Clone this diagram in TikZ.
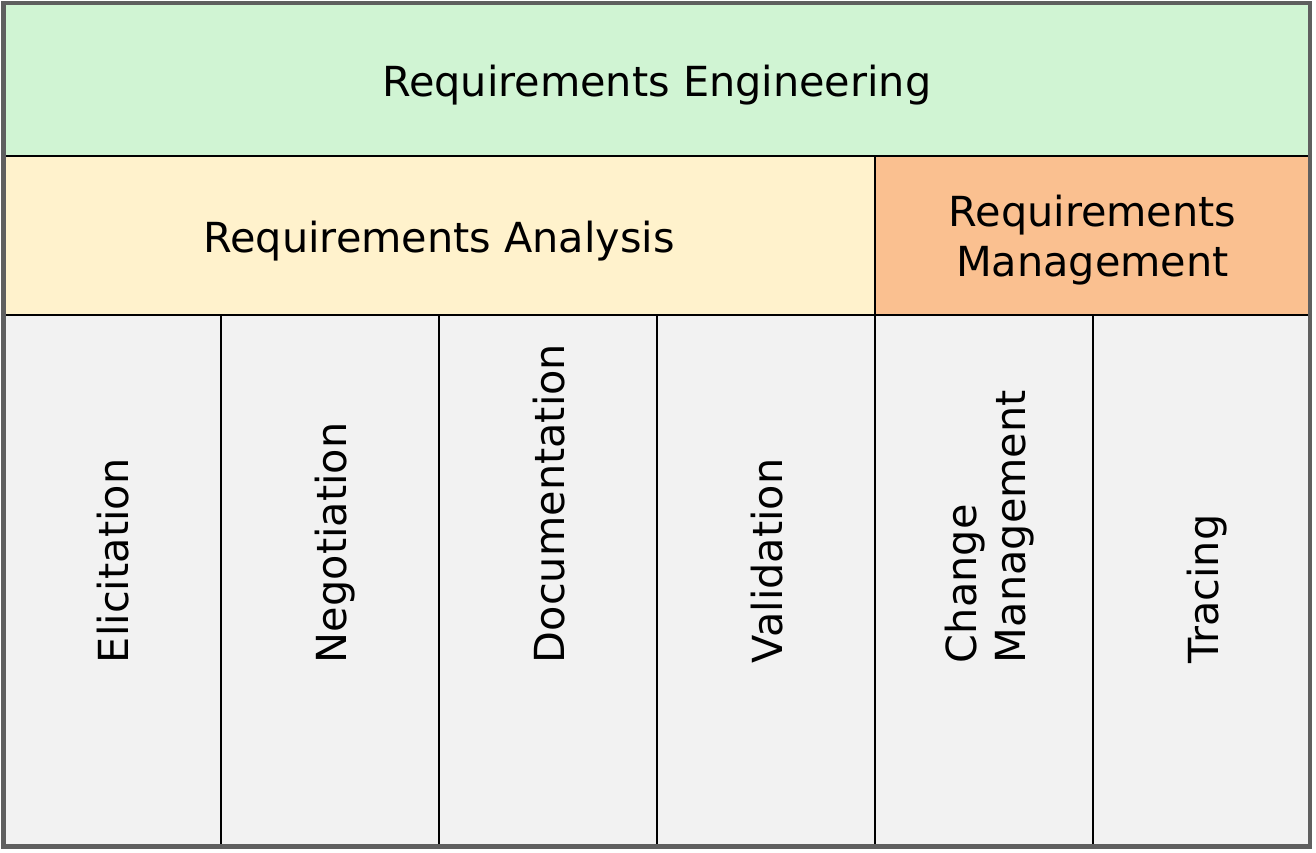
\documentclass[tikz,border=0pt]{standalone}
\usepackage{fontspec}
\setmainfont{DejaVu Sans}
\usetikzlibrary{fit,calc}
\definecolor{engfill}{HTML}{D0F4D3}
\definecolor{anafill}{HTML}{FFF2CC}
\definecolor{mgmtfill}{HTML}{FAC090}
\definecolor{colfill}{HTML}{F2F2F2}
\definecolor{framegray}{HTML}{5F5F5F}
\begin{document}
\begin{tikzpicture}[x=1pt,y=-1pt,
  cell/.style={draw=black, line width=1.6pt, inner sep=0pt, outer sep=0pt},
  lbl/.style={font=\fontsize{41.4}{49.5}\selectfont, inner sep=0pt, outer sep=0pt},
  vlbl/.style={lbl, rotate=90, anchor=base west, align=left},
  framebox/.style={draw=framegray, line width=4.2pt}]
\useasboundingbox (0,0) rectangle (1316,852);
\fill[white] (0,0) rectangle (1316,852);
% cells
\node[cell, fill=engfill, fit={(3.5,3) (1310,156)}] (eng) {};
\node[cell, fill=anafill, fit={(3.5,156) (875,315)}] (ana) {};
\node[cell, fill=mgmtfill, fit={(875,156) (1310,315)}] (mgmt) {};
\node[cell, fill=colfill, fit={(3.5,315) (221,846.5)}] (c1) {};
\node[cell, fill=colfill, fit={(221,315) (439,846.5)}] (c2) {};
\node[cell, fill=colfill, fit={(439,315) (657,846.5)}] (c3) {};
\node[cell, fill=colfill, fit={(657,315) (875,846.5)}] (c4) {};
\node[cell, fill=colfill, fit={(875,315) (1093,846.5)}] (c5) {};
\node[cell, fill=colfill, fit={(1093,315) (1310,846.5)}] (c6) {};
% outer frame
\draw[framebox] (3.5,3) rectangle (1310,846.5);
% horizontal labels
\node[lbl, anchor=base] (tEng) at ($(eng.center)+(0,16.5)$) {Requirements Engineering};
\node[lbl, anchor=base] (tAna) at ($(ana.center)+(0,16.5)$) {Requirements Analysis};
\node[lbl, anchor=base] (tMg1) at ($(mgmt.center)+(0,-8.7)$) {Requirements};
\node[lbl, anchor=base] (tMg2) at ($(mgmt.center)+(0,41.3)$) {Management};
% vertical labels
\node[vlbl] (tC1) at ($(c1.center|-0,663)+(16.5,0)$) {Elicitation};
\node[vlbl] (tC2) at ($(c2.center|-0,663)+(16.5,0)$) {Negotiation};
\node[vlbl] (tC3) at ($(c3.center|-0,663)+(16.5,0)$) {Documentation};
\node[vlbl] (tC4) at ($(c4.center|-0,663)+(16.5,0)$) {Validation};
\node[vlbl] (tC5a) at ($(c5.center|-0,663)+(-7.5,0)$) {Change};
\node[vlbl] (tC5b) at ($(c5.center|-0,663)+(41.5,0)$) {Management};
\node[vlbl] (tC6) at ($(c6.center|-0,663)+(16.5,0)$) {Tracing};
\end{tikzpicture}
\end{document}
